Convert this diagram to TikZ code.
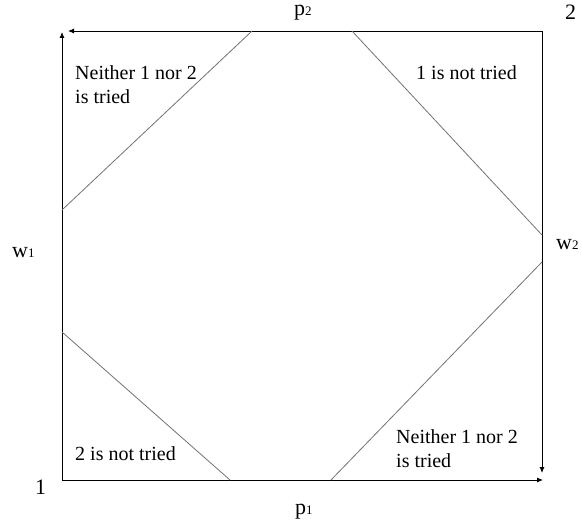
\documentclass[tikz,border=0pt]{standalone}
\usepackage{fontspec}
\setmainfont{Liberation Serif}
\usetikzlibrary{arrows.meta}
\begin{document}
\begin{tikzpicture}[x=1pt,y=-1pt,
  edge/.style={draw=black,line width=0.9pt,-{Latex[length=6pt,width=5pt]}},
  diag/.style={draw=black!55,line width=0.8pt},
  lbl/.style={anchor=base west,inner sep=0pt,font=\fontsize{20}{24}\selectfont,align=left},
  corner/.style={anchor=base west,inner sep=0pt,font=\fontsize{22}{22}\selectfont}]
\useasboundingbox (0,0) rectangle (582,527);
\fill[white] (0,0) rectangle (582,527);
% square corners
\coordinate (O) at (62,480);
\coordinate (TL) at (62,31);
\coordinate (TR) at (542,31);
\coordinate (BR) at (542,480);
\coordinate (TLtip) at (62,32);
\coordinate (TTtip) at (68,31);
\coordinate (Rtip) at (542,473);
\coordinate (Btip) at (543,480);
\draw[edge] (O) -- (TLtip);
\draw[edge] (O) -- (Btip);
\draw[edge] (TR) -- (TTtip);
\draw[edge] (TR) -- (Rtip);
% diagonal end points
\coordinate (a1) at (62,210);
\coordinate (a2) at (252,31);
\coordinate (b1) at (352,31);
\coordinate (b2) at (542,235);
\coordinate (c1) at (542,262);
\coordinate (c2) at (331,480);
\coordinate (d1) at (62,332);
\coordinate (d2) at (230,480);
\draw[diag] (a1) -- (a2);
\draw[diag] (b1) -- (b2);
\draw[diag] (c1) -- (c2);
\draw[diag] (d1) -- (d2);
% region labels (base = baseline of last line)
\node[lbl] (tl) at (75,103) {Neither 1 nor 2\\is tried};
\node[lbl] (tr) at (416,80) {1 is not tried};
\node[lbl] (bl) at (75,460) {2 is not tried};
\node[lbl] (br) at (396,467) {Neither 1 nor 2\\is tried};
% corner and axis labels
\node[corner] (n2) at (565,20) {2};
\node[corner] (n1) at (35,494) {1};
\node[corner] (p2) at (294,16) {p{\fontsize{13}{13}\selectfont 2}};
\node[corner] (p1) at (295,514) {p{\fontsize{13}{13}\selectfont 1}};
\node[corner] (w1) at (12,257) {w{\fontsize{13}{13}\selectfont 1}};
\node[corner] (w2) at (556,249) {w{\fontsize{13}{13}\selectfont 2}};
\end{tikzpicture}
\end{document}
